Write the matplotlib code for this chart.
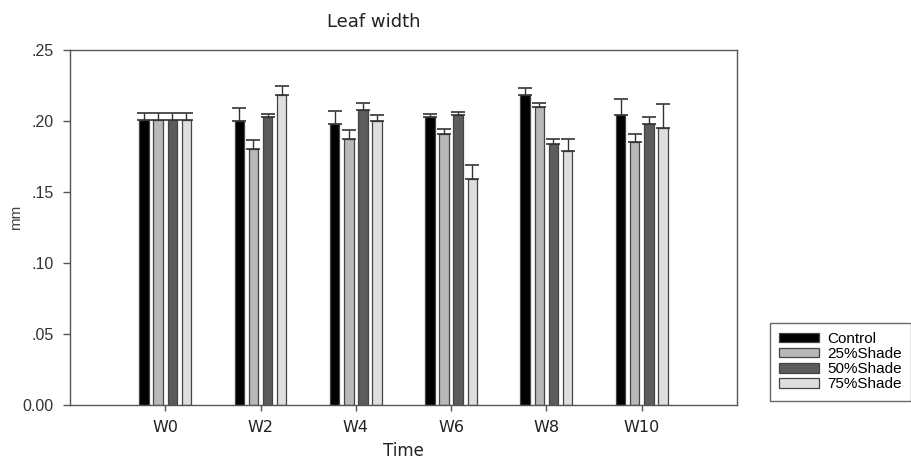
import numpy as np
from matplotlib import pyplot as plt

plt.rcParams['font.family'] = ['Liberation Sans', 'DejaVu Sans']

weeks = ['W0', 'W2', 'W4', 'W6', 'W8', 'W10']
series = ['Control', '25%Shade', '50%Shade', '75%Shade']

control = [0.201, 0.200, 0.198, 0.203, 0.218, 0.204]
shade25 = [0.201, 0.180, 0.187, 0.191, 0.210, 0.185]
shade50 = [0.201, 0.203, 0.208, 0.204, 0.184, 0.198]
shade75 = [0.201, 0.218, 0.200, 0.159, 0.179, 0.195]

control_err = [0.0047, 0.0094, 0.0087, 0.0016, 0.0054, 0.0113]
shade25_err = [0.0047, 0.0063, 0.0066, 0.0035, 0.0030, 0.0061]
shade50_err = [0.0047, 0.0020, 0.0050, 0.0021, 0.0030, 0.0051]
shade75_err = [0.0047, 0.0065, 0.0042, 0.0099, 0.0082, 0.0169]

yticks = [0.0, 0.05, 0.10, 0.15, 0.20, 0.25]
ytick_labels = ['0.00', '.05', '.10', '.15', '.20', '.25']

colors = ['#000000', '#b8b8b8', '#5c5c5c', '#dedede']
edge = '#444444'

fig = plt.figure(figsize=(9.11, 4.63), dpi=100)
ax = fig.add_axes([0.0768, 0.1253, 0.7322, 0.7667])

x = np.arange(len(weeks))
width = 0.1
step = 0.148
vals = [control, shade25, shade50, shade75]
errs = [control_err, shade25_err, shade50_err, shade75_err]

for i in range(4):
    pos = x + (i - 1.5) * step
    ax.bar(pos, vals[i], width, color=colors[i], edgecolor=edge,
           linewidth=0.9, label=series[i], zorder=2)
    ax.errorbar(pos, vals[i], yerr=[np.zeros(len(weeks)), errs[i]],
                fmt='none', ecolor='#333333', elinewidth=1.0,
                capsize=5, capthick=1.2, zorder=3)

ax.set_xlim(-1, 6)
ax.set_ylim(0, 0.25)
ax.set_xticks(x)
ax.set_xticklabels(weeks, fontsize=11.5, family='DejaVu Sans', color='#222222')
ax.set_yticks(yticks)
ax.set_yticklabels(ytick_labels, fontsize=11.5, color='#333333')

for s in ax.spines.values():
    s.set_color('#555555')
    s.set_linewidth(1.0)
ax.tick_params(direction='out', length=4, color='#555555', width=1.0)
ax.tick_params(axis='x', pad=7)
ax.tick_params(axis='y', length=5, pad=7)

fig.text(0.41, 0.952, 'Leaf width', ha='center', va='center', fontsize=13,
         family='DejaVu Sans', color='#222222')
fig.text(0.443, 0.026, 'Time', ha='center', va='center', fontsize=12,
         family='DejaVu Sans', color='#222222')
fig.text(0.018, 0.53, 'mm', ha='center', va='center', rotation=90, fontsize=11,
         color='#444444')

leg = ax.legend(loc='upper left', bbox_to_anchor=(762 / 911, 1 - 315 / 463),
                bbox_transform=fig.transFigure, fontsize=11, frameon=True,
                fancybox=False, edgecolor='#444444', handlelength=2.6,
                handleheight=0.6, labelspacing=0.08, borderpad=0.6,
                handletextpad=0.6)
leg.get_frame().set_linewidth(1.0)

fig.savefig('out.png', dpi=100)
